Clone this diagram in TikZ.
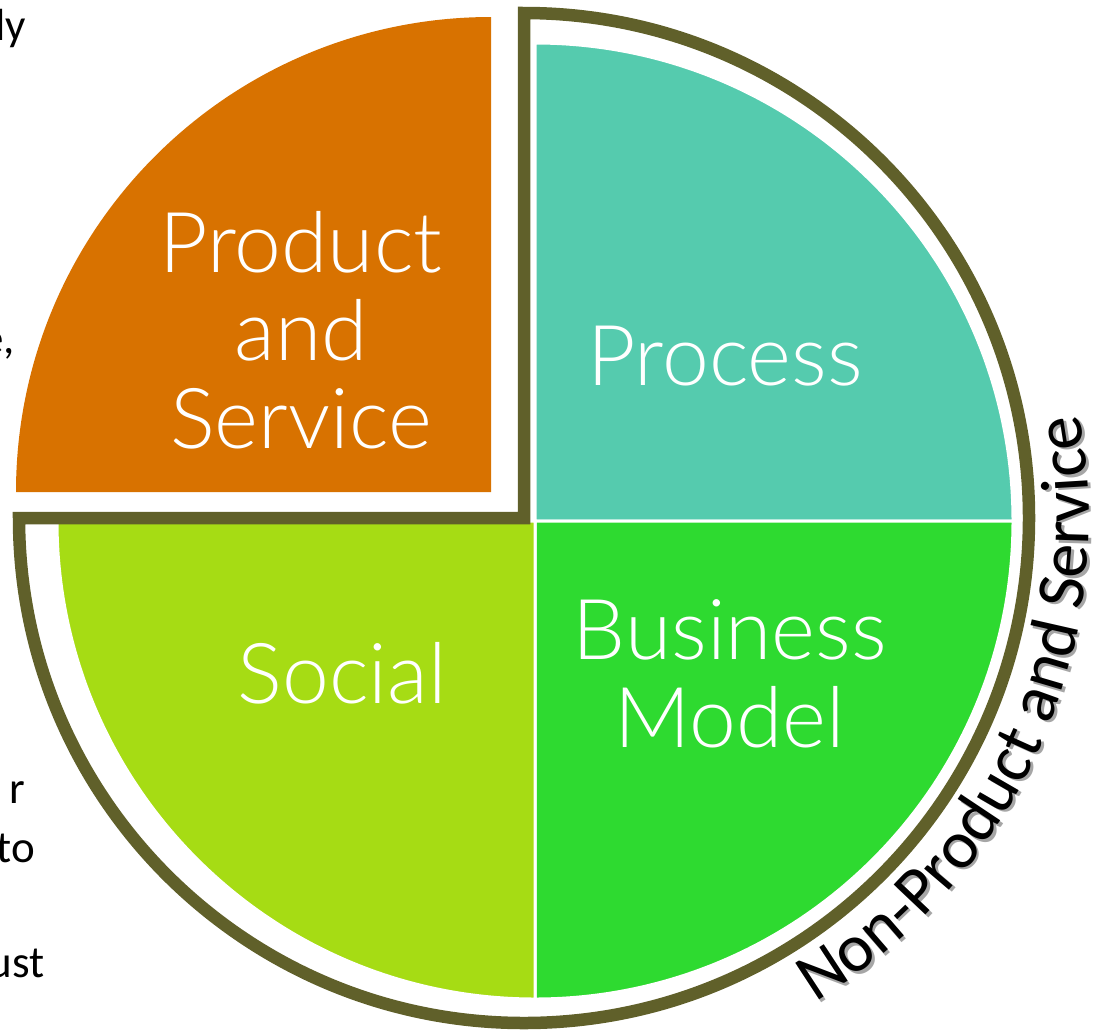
\documentclass[tikz,border=0pt]{standalone}
\usepackage{fontspec}
\usetikzlibrary{decorations.text}
\newfontfamily\labelfont{Lato}[UprightFont=* Light]
\newfontfamily\carlito{Carlito}
\newcommand\arcfont{\carlito\fontsize{68}{72}\selectfont}
\definecolor{psorange}{RGB}{216,114,0}
\definecolor{procteal}{RGB}{85,203,174}
\definecolor{bmgreen}{RGB}{46,218,48}
\definecolor{soclime}{RGB}{166,220,20}
\definecolor{ringolive}{RGB}{96,96,42}
\begin{document}
\begin{tikzpicture}[x=1pt,y=-1pt,
  sector/.style={draw=white, line width=3pt},
  ring/.style={draw=ringolive, line width=12.5pt, line join=miter},
  biglabel/.style={text=white, font=\labelfont\fontsize{84}{88}\selectfont, align=center, inner sep=0pt, anchor=base},
  sidetext/.style={font=\carlito\fontsize{45}{50}\selectfont, inner sep=0pt, anchor=base east}]
\useasboundingbox (0,0) rectangle (1097,1029);
% sectors
\fill[psorange] (491,492) -- (16,492) arc[start angle=180, end angle=270, radius=475] -- cycle;
\filldraw[sector, fill=procteal] (535,521) -- (1013,521) arc[start angle=0, end angle=-90, radius=478] -- cycle;
\filldraw[sector, fill=bmgreen] (535,521) -- (1013,521) arc[start angle=0, end angle=90, radius=478] -- cycle;
\filldraw[sector, fill=soclime] (535,521) -- (535,999) arc[start angle=90, end angle=180, radius=478] -- cycle;
% ring
\draw[ring] (524,13) -- (524,518) -- (19,518) arc[start angle=180, end angle=-90, radius=505] -- cycle;
% labels (anchor base = last line)
\node[biglabel] (ps) at (301,448) {Product\\and\\Service};
\node[biglabel] (proc) at (725,385) {Process};
\node[biglabel] (bm) at (730,747) {Business\\Model};
\node[biglabel] (soc) at (342,703) {Social};
% curved text with shadow
\path[decorate, decoration={text along path, text={|\arcfont\color{black!35}|Non-Product and Service}, text align=left}]
  ([shift={(59:565)}]526.5,520.5) arc[start angle=59, end angle=-25, radius=565];
\path[decorate, decoration={text along path, text={|\arcfont\color{black}|Non-Product and Service}, text align=left}]
  ([shift={(59:565)}]524,518) arc[start angle=59, end angle=-25, radius=565];
% cut-off side text
\node[sidetext] (f1) at (26,40) {ly};
\node[sidetext] (f2) at (15,353) {e,};
\node[sidetext] (f3) at (25,803) {r};
\node[sidetext] (f4) at (35,862) {to};
\node[sidetext] (f5) at (45,977) {ust};
\end{tikzpicture}
\end{document}
